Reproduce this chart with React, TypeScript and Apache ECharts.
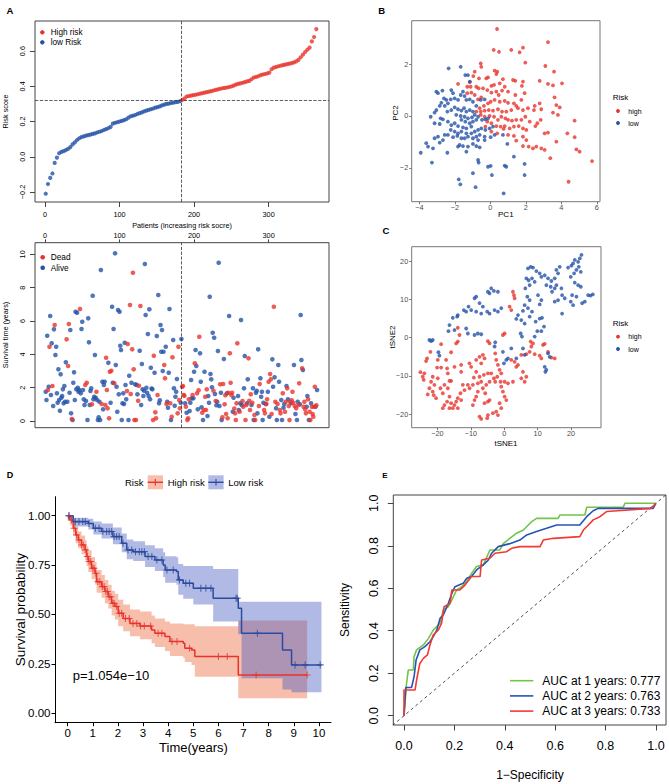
import React, { useEffect, useRef } from 'react';
import * as echarts from 'echarts';

const FONT = '"Liberation Sans", Arial, Helvetica, sans-serif';
const RED = '#E8332C';
const BLUE = '#2452A8';

// ---------- Panel A (risk score curve, every third patient) ----------
const riskScoreStep = 3;
const riskScores = [
  -0.21, -0.155, -0.12, -0.095, -0.035, -0.005, 0.02, 0.028, 0.032, 0.038,
  0.045, 0.055, 0.07, 0.082, 0.095, 0.105, 0.112, 0.116, 0.12, 0.123,
  0.126, 0.13, 0.133, 0.138, 0.142, 0.146, 0.152, 0.157, 0.162, 0.17,
  0.188, 0.193, 0.196, 0.2, 0.204, 0.208, 0.213, 0.222, 0.23, 0.233,
  0.237, 0.243, 0.248, 0.252, 0.258, 0.262, 0.266, 0.27, 0.274, 0.279,
  0.282, 0.286, 0.292, 0.296, 0.3, 0.302, 0.305, 0.307, 0.31, 0.312,
  0.315, 0.322, 0.33, 0.342, 0.345, 0.347, 0.35, 0.352, 0.355, 0.358,
  0.361, 0.364, 0.367, 0.37, 0.373, 0.376, 0.38, 0.383, 0.386, 0.389,
  0.391, 0.393, 0.396, 0.399, 0.404, 0.41, 0.414, 0.417, 0.42, 0.424,
  0.428, 0.431, 0.44, 0.45, 0.453, 0.457, 0.463, 0.467, 0.47, 0.473,
  0.478, 0.497, 0.506, 0.51, 0.514, 0.517, 0.52, 0.523, 0.526, 0.529,
  0.532, 0.536, 0.542, 0.55, 0.565, 0.58, 0.595, 0.608, 0.62, 0.655,
  0.68, 0.725,
];
const cutoffPatient = 182.5;
const cutoffScore = 0.316;
const patientTicks = [0, 100, 200, 300];
const riskTicks = [-0.2, 0, 0.2, 0.4, 0.6];
const survTicks = [0, 2, 4, 6, 8, 10];

// survival time per patient (ordered by risk score)
const survTime = [
  1.76, 1.26, 5.12, 1.86, 2.06, 4.46, 6.3, 1.56, 4.66, 2.1, 0.9,
  5.5, 5.76, 3.96, 4.46, 1.66, 1.1, 3.1, 1.26, 0.62, 2.8, 1.4,
  1.5, 1.9, 1.06, 2.1, 1.16, 3.52, 4.9, 1.16, 3.3, 5.82, 1.7,
  5.46, 0.46, 0.12, 0.06, 2.3, 2.92, 1.26, 6.56, 1.9, 6.5, 2.0,
  1.76, 1.86, 6.72, 1.66, 5.52, 5.96, 1.86, 1.3, 0.96, 2.16, 1.2,
  2.3, 0.06, 6.16, 4.72, 0.96, 1.8, 1.96, 1.0, 7.52, 1.3, 1.45,
  3.96, 1.4, 1.76, 1.26, 0.06, 0.22, 1.16, 0.06, 9.06, 1.02, 2.36,
  0.7, 2.16, 2.36, 0.96, 3.8, 1.86, 0.76, 3.5, 0.16, 2.96, 1.1,
  3.02, 6.86, 2.3, 5.52, 2.26, 10.06, 3.36, 2.06, 0.56, 6.66, 1.6,
  6.56, 4.52, 4.26, 0.06, 1.06, 1.66, 1.02, 4.7, 2.16, 1.3, 1.8,
  4.62, 0.06, 2.72, 6.96, 1.62, 2.3, 4.3, 8.9, 3.1, 0.06, 2.2,
  0.06, 2.16, 1.6, 1.22, 2.12, 4.22, 6.9, 0.96, 3.42, 1.9, 1.5,
  1.82, 9.42, 6.36, 2.0, 1.7, 5.22, 1.5, 6.7, 1.3, 3.2, 1.95,
  1.9, 0.06, 3.92, 2.9, 0.52, 0.16, 5.1, 1.56, 7.56, 1.06, 1.25,
  5.76, 4.16, 5.46, 3.0, 4.16, 3.36, 2.56, 4.46, 1.02, 1.16, 0.8,
  2.9, 6.72, 1.06, 0.06, 0.26, 3.82, 4.86, 1.96, 0.92, 1.46, 1.75,
  2.52, 0.46, 4.46, 1.26, 0.76, 1.1,
  4.92, 2.06, 2.1, 1.56, 1.52, 1.06, 0.86, 0.5, 0.06, 0.16, 1.3, 0.6,
  1.1, 2.46, 1.36, 1.56, 1.36, 2.96, 3.46, 4.26, 3.3, 1.66, 0.7, 1.85,
  5.06, 4.06, 2.36, 0.82, 0.5, 0.06, 0.66, 2.96, 1.46, 0.66, 1.9, 0.3,
  1.5, 1.1, 7.46, 2.82, 2.5, 2.02, 5.3, 1.82, 5.0, 1.62, 1.2, 0.95,
  1.16, 4.2, 9.5, 0.9, 2.2, 1.7, 0.06, 0.22, 2.22, 3.72, 1.0, 1.55,
  0.42, 1.66, 0.16, 1.7, 6.3, 4.06, 2.3, 1.56, 1.7, 0.56, 1.4, 0.75,
  0.46, 0.06, 1.06, 4.66, 1.5, 0.66, 0.56, 1.06, 6.06, 0.96, 1.2,
  0.86, 1.96, 3.9, 0.06, 0.96, 1.06, 2.5, 3.76, 1.22, 0.66, 1.6,
  0.96, 1.1, 1.96, 0.06, 0.36, 0.06, 1.7, 1.82, 0.46, 4.3, 0.9,
  2.22, 2.56, 1.46, 1.76, 0.06, 1.1, 0.66, 0.46, 1.02, 1.02, 1.3,
  1.76, 2.36, 0.26, 2.82, 2.5, 0.42, 3.7, 2.06, 6.86, 2.62, 1.15,
  0.76, 0.06, 1.02, 3.36, 2.36, 0.66, 0.46, 1.26, 0.06, 1.66, 0.8,
  1.02, 0.56, 1.16, 2.1, 1.96, 1.3, 0.9, 0.06, 1.16, 1.06, 1.25,
  1.76, 1.1, 3.36, 0.9, 0.42, 0.76, 0.06, 1.16, 0.96, 2.26, 1.0,
  6.36, 3.66, 3.16, 3.06, 0.86, 1.16, 0.7, 0.46, 0.86, 1.5, 1.3,
  0.06, 0.56, 0.06, 1.06, 0.86, 0.42, 0.26, 0.86, 2.06, 0.86, 0.95,
  1.86,
];
// D = dead, A = alive
const survStatus = [
  'AAADADAAADA', 'ADAAAAAAAAA', 'AAAAAADADDA', 'AADAAAAAAAA', 'AADAAAAAADA',
  'DAAAAAADAAA', 'AADAAAAAADA', 'AAADDDDADDA', 'DAAADAAAAAA', 'AAAAAAAAAAD',
  'DAADDADDDDA', 'DAADDADAAAA', 'AAAAAAAAAAA', 'ADDADDADAAA', 'AAAAADDADAA',
  'AADADDAAAAA', 'ADDDDA',
  'ADDDDADADDDA', 'AAADAADAADAD', 'DAAADADADDDA', 'AAAAAAADAADA', 'AAAADAADDADD',
  'DADDADDDDAAD', 'DDDDAADAAAD', 'DAADDAADDDD', 'ADAADDAAAAD', 'DAAAAADDADD',
  'ADADDDAADAD', 'AADAADDAADA', 'ADDADADDDAD', 'DDADADAADDA', 'AADADDDDAAD',
  'ADDADDDDDAD', 'A',
].join('');

// ---------- Panel B (PCA) ----------
const pcaHigh = [
  [0.38, 3.36], [0.19, 2.55], [0.49, 2.48], [1.18, 2.55], [1.65, 2.46], [1.84, 2.64], [3.25, 2.85], [1.97, 2.06],
  [3.1, 1.93], [3.59, 1.71], [-0.54, 2.03], [-0.51, 1.9], [0.24, 1.75], [0.39, 1.71], [0.34, 1.62], [-0.13, 1.49],
  [-0.88, 1.71], [-0.96, 1.54], [-1.16, 1.31], [-0.64, 1.45], [-0.23, 1.45], [-1.82, 1.24], [-1.3, 1.13], [-1.11, 1.13],
  [-0.79, 1.13], [-0.66, 1.07], [-0.41, 1.07], [-0.17, 1.0], [0.06, 1.16], [0.21, 1.2], [0.53, 1.26], [0.71, 1.42],
  [0.81, 1.13], [1.28, 1.39], [1.41, 1.36], [1.84, 1.33], [1.78, 1.16], [2.78, 1.36], [3.25, 1.24], [3.53, 1.18],
  [4.04, 1.26], [-1.3, 0.88], [-1.07, 0.9], [-0.88, 0.81], [-0.69, 0.64], [-0.51, 0.72], [0.06, 0.9], [0.34, 0.94],
  [0.47, 0.81], [0.66, 0.98], [1.0, 0.94], [1.41, 0.81], [1.93, 0.88], [1.75, 0.62], [1.33, 0.49], [1.46, 0.39],
  [1.0, 0.51], [0.81, 0.58], [0.53, 0.55], [0.24, 0.62], [0.02, 0.55], [-0.13, 0.49], [-0.36, 0.39], [-0.6, 0.3],
  [-0.79, 0.17], [-0.54, 0.17], [-0.32, 0.21], [-0.09, 0.23], [0.15, 0.21], [0.43, 0.26], [0.66, 0.17], [0.9, 0.17],
  [1.18, 0.23], [1.56, 0.3], [1.84, 0.23], [2.12, 0.3], [2.5, 0.39], [2.78, 0.49], [2.46, 0.23], [2.87, 0.26],
  [3.62, 0.72], [3.72, 0.42], [3.91, 0.33], [3.53, 0.13], [3.81, 0.04], [-0.54, 0.04], [-0.32, -0.03], [-0.04, 0.0],
  [0.21, -0.03], [0.43, -0.15], [0.62, -0.03], [0.85, -0.09], [1.0, -0.15], [1.22, -0.18], [1.46, -0.15], [1.75, -0.15],
  [1.97, -0.03], [2.22, -0.22], [2.54, -0.39], [2.65, -0.28], [2.84, -0.15], [3.06, -0.67], [3.25, -0.64], [-0.17, -0.22],
  [0.06, -0.28], [0.34, -0.39], [0.58, -0.41], [0.81, -0.39], [1.09, -0.48], [1.33, -0.41], [1.6, -0.39], [1.84, -0.48],
  [2.03, -0.54], [1.0, -0.73], [1.33, -0.77], [1.84, -0.8], [1.46, -0.95], [2.03, -0.93], [2.16, -1.18], [1.84, -1.16],
  [2.4, -1.25], [2.59, -1.18], [2.87, -1.25], [3.06, -1.31], [4.75, -0.18], [4.34, -0.67], [4.75, -0.82], [3.72, -0.99],
  [4.85, -1.29], [5.03, -1.38], [5.73, -1.74], [3.38, -1.63], [4.41, -2.54], [0.75, -0.5], [0.39, -0.67], [0.06, -0.6],
  [-0.28, -0.41],
];
const pcaLow = [
  [-2.35, 1.84], [-1.67, 1.9], [-1.41, 1.58], [-1.26, 1.58], [-1.15, 1.33], [-3.04, 0.94], [-2.95, 0.88], [-2.7, 0.98],
  [-2.2, 1.0], [-2.1, 0.88], [-2.61, 0.68], [-2.48, 0.62], [-2.76, 0.51], [-2.85, 0.39], [-2.57, 0.39], [-2.39, 0.49],
  [-2.23, 0.64], [-2.01, 0.68], [-1.82, 0.62], [-1.67, 0.81], [-1.54, 0.94], [-1.45, 0.77], [-1.35, 0.62], [-1.16, 0.64],
  [-0.98, 0.55], [-0.79, 0.39], [-0.54, 0.62], [-0.32, 0.64], [-3.36, -0.03], [-3.14, 0.13], [-3.04, 0.23], [-2.8, -0.09],
  [-2.67, -0.13], [-2.42, 0.17], [-2.2, 0.23], [-2.01, 0.33], [-1.82, 0.26], [-1.63, 0.21], [-1.48, 0.3], [-1.35, 0.17],
  [-1.16, 0.23], [-0.98, 0.17], [-1.92, 0.04], [-1.67, 0.0], [-1.45, -0.03], [-1.26, -0.09], [-1.03, -0.05], [-0.88, 0.04],
  [-0.69, -0.03], [-1.63, -0.15], [-1.41, -0.22], [-1.16, -0.28], [-0.98, -0.22], [-0.79, -0.15], [-0.47, -0.15], [-0.28, -0.13],
  [-0.13, -0.09], [-3.14, -0.28], [-2.85, -0.31], [-2.39, -0.22], [-2.2, -0.35], [-2.01, -0.28], [-1.82, -0.39], [-1.54, -0.44],
  [-1.35, -0.48], [-2.23, -0.54], [-2.01, -0.6], [-1.82, -0.67], [-1.63, -0.6], [-1.35, -0.67], [-1.07, -0.67], [-0.88, -0.6],
  [-0.69, -0.54], [-0.51, -0.48], [-0.28, -0.54], [-0.04, -0.48], [0.15, -0.41], [-1.07, -0.41], [-3.14, -0.86], [-2.95, -0.8],
  [-2.85, -1.03], [-2.67, -0.93], [-2.57, -0.73], [-2.39, -0.73], [-2.1, -0.82], [-1.86, -0.77], [-1.63, -0.86], [-1.45, -0.86],
  [-1.26, -0.8], [-0.98, -0.86], [-0.79, -0.8], [-0.6, -0.73], [-0.32, -0.8], [0.02, -0.82], [0.24, -0.73], [-0.69, -0.93],
  [-0.32, -0.93], [-1.73, -1.12], [-1.54, -1.16], [-1.26, -1.18], [-0.98, -1.08], [-0.79, -1.16], [-0.6, -1.21], [0.71, -0.73],
  [0.96, -1.08], [-3.51, -1.18], [-3.23, -1.25], [-3.92, -1.42], [-2.42, -1.42], [-1.35, -1.38], [-0.69, -1.7], [-0.66, -1.8],
  [-0.13, -1.96], [0.02, -1.93], [0.81, -1.92], [0.9, -1.96], [1.33, -1.57], [1.93, -1.85], [1.93, -2.28], [-3.29, -1.8],
  [-0.98, -2.21], [0.09, -2.28], [-1.78, -2.45], [-1.69, -2.64], [-0.83, -2.75], [0.75, -2.99], [-3.61, -1.05], [-1.82, -1.18],
];

// ---------- Panel C (tSNE) ----------
const tsneHigh = [
  [2.6, 12.0], [2.9, 11.1], [3.1, 10.3], [1.6, 8.1], [2.1, 7.2], [-13.9, 2.6], [-13.4, 0.7], [-13.9, -1.0],
  [-14.4, -1.5], [-18.9, -1.7], [-15.9, -3.8], [-22.1, -3.7], [-23.1, -5.4], [-23.4, -6.1], [-19.9, -5.8], [-20.1, -7.8],
  [-18.9, -7.8], [-17.4, -5.8], [-17.1, -8.0], [-16.9, -9.3], [-16.4, -11.3], [-15.9, -11.3], [-17.9, -12.3], [-16.9, -13.2],
  [-18.4, -14.5], [-19.1, -13.2], [-19.9, -10.6], [-21.4, -10.2], [-21.9, -11.5], [-22.4, -13.2], [-23.9, -9.3], [-24.4, -10.2],
  [-25.1, -9.0], [-24.1, -11.0], [-20.9, -12.3], [-21.1, -15.0], [-20.4, -15.8], [-22.9, -14.8], [-21.4, -14.1], [-14.9, -7.6],
  [-12.9, -7.1], [-12.9, -8.9], [-10.4, -6.7], [-9.9, -7.6], [-8.4, -5.8], [-7.4, -5.0], [-6.4, -4.5], [-5.9, -5.4],
  [-6.9, -6.7], [-4.9, -0.9], [-4.4, -1.5], [0.1, 1.1], [-0.4, 0.7], [-2.7, -4.1], [-2.4, -5.8], [-1.9, -7.1],
  [-1.4, -8.4], [-0.9, -9.3], [-2.1, -10.2], [-3.1, -10.6], [-3.9, -9.3], [-4.9, -9.3], [-6.1, -9.7], [-7.4, -10.2],
  [-8.4, -8.9], [-9.1, -10.4], [-9.4, -12.3], [-7.9, -11.9], [-6.9, -11.5], [-5.4, -12.3], [-4.4, -11.5], [-2.7, -11.5],
  [-1.1, -11.5], [0.1, -11.5], [1.1, -11.9], [2.6, -11.5], [-0.9, -12.8], [-0.4, -14.1], [0.1, -15.4], [0.6, -16.3],
  [-1.4, -17.1], [-0.9, -18.4], [-2.4, -19.3], [-1.9, -20.2], [-3.4, -19.7], [-4.9, -20.2], [-5.1, -21.0], [-7.4, -20.6],
  [-6.9, -21.2], [-5.9, -17.1], [-4.9, -16.7], [-4.4, -16.3], [-5.7, -14.5], [-6.4, -13.2], [-7.9, -14.1], [-8.4, -15.4],
  [-8.9, -16.3], [-9.4, -17.6], [-10.4, -13.2], [-10.9, -12.3], [-12.4, -12.3], [-11.9, -13.7], [-13.1, -14.5], [-13.9, -15.8],
  [-14.4, -16.7], [-14.9, -17.6], [-15.9, -17.1], [-17.1, -16.7], [-17.9, -17.6], [-18.4, -18.4], [-16.4, -18.4], [-15.4, -18.4],
  [-13.9, -18.4], [-12.9, -16.3], [-16.4, -15.4], [5.1, -4.5], [6.6, -4.3], [7.6, -3.7], [9.1, -4.3], [10.6, -4.7],
  [11.6, -1.9], [12.1, -1.6], [13.1, -3.7], [14.1, -5.2], [15.1, -5.4], [11.1, -5.4], [8.1, -2.3], [8.6, -1.5],
  [7.9, -1.0], [4.1, -7.1], [3.6, -7.6], [5.1, -10.6], [6.1, -11.5], [5.6, -8.9], [6.6, -10.2], [2.1, -5.8],
  [3.1, -6.3],
];
const tsneLow = [
  [23.1, 21.6], [22.6, 20.7], [22.1, 19.8], [21.1, 20.3], [20.6, 19.4], [20.1, 18.8], [19.1, 18.3], [22.3, 18.5],
  [21.6, 17.7], [22.9, 17.2], [20.9, 16.8], [19.9, 15.9], [21.1, 14.4], [22.1, 13.7], [22.9, 13.3], [16.6, 18.5],
  [15.6, 17.7], [16.1, 16.8], [15.1, 15.5], [14.1, 14.8], [13.1, 15.5], [12.1, 16.3], [11.1, 15.9], [10.6, 16.8],
  [9.6, 17.4], [7.1, 18.1], [7.9, 18.5], [8.6, 18.3], [6.6, 15.5], [7.3, 15.0], [8.3, 15.5], [9.1, 14.6],
  [7.6, 13.7], [6.3, 12.9], [12.6, 13.7], [13.9, 13.3], [15.1, 12.9], [14.3, 12.0], [15.6, 13.7], [17.1, 12.9],
  [17.3, 11.1], [16.1, 9.8], [15.1, 9.4], [18.1, 10.3], [19.9, 9.4], [20.6, 8.5], [20.3, 11.1], [21.6, 10.7],
  [24.1, 9.4], [23.3, 9.0], [25.1, 11.1], [25.8, 11.0], [26.5, 11.3], [17.3, 6.3], [11.1, 9.8], [10.6, 8.7],
  [10.1, 11.1], [6.9, 10.7], [7.6, 9.8], [6.1, 8.5], [7.1, 7.7], [5.6, 7.0], [4.1, 5.9], [3.6, 4.9],
  [5.1, 4.6], [6.1, 3.7], [7.6, 5.5], [8.3, 6.8], [9.4, 4.2], [10.6, 5.0], [11.3, 5.2], [11.9, 2.9],
  [11.1, 1.7], [9.9, 1.7], [9.1, 0.3], [4.9, 1.1], [5.3, 0.3], [2.1, -2.8], [6.1, -4.5], [5.6, -2.8],
  [13.1, -4.1], [13.6, -5.0], [12.1, -7.6], [12.6, -8.4], [12.3, -8.9], [-2.9, 7.2], [-1.9, 6.8], [-0.9, 7.7],
  [-4.4, 6.3], [-5.1, 6.8], [-6.9, 6.3], [-8.4, 6.8], [-9.9, 7.2], [-11.4, 6.8], [-10.7, 8.1], [-8.9, 10.3],
  [-8.4, 10.7], [-7.4, 9.0], [-6.4, 8.1], [-4.9, 12.0], [-3.9, 12.9], [-3.1, 12.2], [-1.9, 12.0], [-4.4, 11.6],
  [-12.1, 7.2], [-13.9, 5.9], [-15.4, 5.2], [-14.1, 5.5], [-16.4, 3.3], [-16.7, 1.7], [-14.9, 2.0], [-11.4, 2.4],
  [-10.9, 1.1], [-8.9, 0.7], [-7.9, 1.1], [-6.9, 0.9], [-2.7, -1.2], [-2.9, -2.3], [-0.4, -3.7], [0.6, -5.8],
  [-0.1, -6.7], [1.1, -5.4], [-22.4, -0.6], [-21.9, -0.9], [-21.4, -0.6], [-19.7, -3.8], [-19.4, -4.7], [3.6, -5.4],
];

// ---------- Panel D (Kaplan-Meier) ----------
const highT = [0, 0.09, 0.22, 0.32, 0.42, 0.55, 0.69, 0.755, 0.82, 0.95, 1.09, 1.15, 1.35, 1.48, 1.62, 1.75, 1.88, 2.01, 2.21, 2.48, 2.88, 3.34, 3.47, 3.87, 4.07, 4.6, 4.66, 4.93, 5.06, 6.79, 9.53];
const highS = [1.0, 0.978, 0.936, 0.902, 0.877, 0.852, 0.827, 0.793, 0.768, 0.734, 0.709, 0.666, 0.641, 0.616, 0.59, 0.557, 0.54, 0.506, 0.48, 0.455, 0.442, 0.422, 0.405, 0.388, 0.363, 0.354, 0.329, 0.32, 0.287, 0.194, 0.194];
const lowT = [0, 0.22, 0.82, 1.02, 1.35, 1.8, 2.15, 2.35, 2.61, 3.08, 3.47, 3.8, 3.88, 4.33, 4.4, 4.6, 5.0, 5.79, 6.79, 6.92, 8.55, 8.91, 10.1];
const lowS = [1.0, 0.97, 0.96, 0.936, 0.92, 0.894, 0.86, 0.826, 0.818, 0.793, 0.776, 0.75, 0.725, 0.717, 0.675, 0.658, 0.633, 0.582, 0.531, 0.405, 0.32, 0.245, 0.245];
// [time, lower, upper]
const highBand = [
  [0, 0.975, 1.0], [0.09, 0.95, 1.0], [0.22, 0.9, 0.97], [0.32, 0.86, 0.945], [0.42, 0.835, 0.92], [0.55, 0.805, 0.9],
  [0.69, 0.775, 0.875], [0.755, 0.745, 0.845], [0.82, 0.715, 0.825], [0.95, 0.68, 0.79], [1.09, 0.65, 0.765],
  [1.15, 0.61, 0.725], [1.35, 0.585, 0.7], [1.48, 0.555, 0.675], [1.62, 0.53, 0.65], [1.75, 0.495, 0.62],
  [1.88, 0.475, 0.605], [2.01, 0.44, 0.575], [2.21, 0.415, 0.55], [2.48, 0.39, 0.525], [2.88, 0.375, 0.515],
  [3.34, 0.355, 0.495], [3.47, 0.335, 0.48], [3.87, 0.315, 0.465], [4.07, 0.29, 0.455], [4.6, 0.28, 0.45],
  [4.66, 0.26, 0.45], [4.93, 0.245, 0.45], [5.06, 0.185, 0.44], [6.79, 0.076, 0.469], [9.53, 0.076, 0.469],
];
const lowBand = [
  [0, 0.985, 1.0], [0.22, 0.945, 0.99], [0.82, 0.93, 0.985], [1.02, 0.905, 0.97], [1.35, 0.885, 0.96], [1.8, 0.855, 0.94],
  [2.15, 0.815, 0.91], [2.35, 0.78, 0.88], [2.61, 0.77, 0.87], [3.08, 0.74, 0.85], [3.47, 0.72, 0.835], [3.8, 0.69, 0.815],
  [3.88, 0.66, 0.795], [4.33, 0.65, 0.79], [4.4, 0.6, 0.755], [4.6, 0.58, 0.745], [5.0, 0.55, 0.745], [5.79, 0.464, 0.73],
  [6.79, 0.4, 0.565], [6.92, 0.177, 0.565], [8.55, 0.12, 0.565], [8.91, 0.106, 0.565], [10.1, 0.106, 0.565],
];
const highCensor = [0.05, 0.15, 0.25, 0.35, 0.45, 0.55, 0.62, 0.7, 0.78, 0.85, 0.92, 1.0, 1.05, 1.12, 1.2, 1.28, 1.38, 1.45, 1.52, 1.58, 1.65, 1.72, 1.8, 1.85, 1.95, 2.05, 2.15, 2.3, 2.45, 2.6, 2.75, 2.9, 3.05, 3.3, 3.6, 3.75, 4.15, 4.35, 4.85, 6.0, 6.35, 7.5, 9.53];
const lowCensor = [0.05, 0.3, 0.45, 0.6, 0.7, 0.85, 1.1, 1.25, 1.4, 1.55, 1.65, 1.75, 1.85, 1.95, 2.05, 2.2, 2.4, 2.55, 2.7, 2.85, 2.95, 3.05, 3.2, 3.35, 3.55, 3.75, 3.95, 4.2, 4.45, 4.7, 4.85, 5.3, 5.5, 5.7, 6.7, 6.75, 7.55, 9.05, 9.45, 10.05];
const pValueText = 'p=1.054e\u221210';
const timeTicks = [0, 1, 2, 3, 4, 5, 6, 7, 8, 9, 10];
const probTicks = [0, 0.25, 0.5, 0.75, 1];

// ---------- Panel E (ROC) ----------
const roc1 = [[0, 0], [0.01, 0.152], [0.017, 0.215], [0.037, 0.215], [0.04, 0.278], [0.05, 0.31], [0.077, 0.333], [0.097, 0.364], [0.116, 0.403], [0.143, 0.435], [0.156, 0.498], [0.176, 0.513], [0.19, 0.545], [0.209, 0.592], [0.229, 0.607], [0.249, 0.631], [0.268, 0.67], [0.288, 0.702], [0.315, 0.71], [0.341, 0.78], [0.38, 0.78], [0.394, 0.81], [0.42, 0.835], [0.447, 0.859], [0.474, 0.874], [0.507, 0.914], [0.526, 0.929], [0.612, 0.929], [0.619, 0.945], [0.718, 0.945], [0.725, 0.981], [0.87, 0.981], [0.877, 1.0], [1.0, 1.0]];
const roc2 = [[0, 0], [0.007, 0.133], [0.03, 0.133], [0.04, 0.184], [0.048, 0.262], [0.063, 0.31], [0.083, 0.325], [0.103, 0.348], [0.116, 0.372], [0.13, 0.403], [0.143, 0.458], [0.156, 0.474], [0.176, 0.529], [0.19, 0.576], [0.202, 0.607], [0.235, 0.623], [0.249, 0.647], [0.268, 0.655], [0.288, 0.686], [0.315, 0.71], [0.335, 0.733], [0.348, 0.765], [0.374, 0.796], [0.42, 0.81], [0.46, 0.827], [0.487, 0.851], [0.526, 0.867], [0.566, 0.882], [0.606, 0.898], [0.698, 0.898], [0.725, 0.937], [0.751, 0.965], [0.771, 0.976], [0.989, 0.976], [1.0, 1.0]];
const roc3 = [[0, 0], [0, 0.121], [0.044, 0.121], [0.05, 0.168], [0.063, 0.246], [0.077, 0.27], [0.093, 0.286], [0.103, 0.333], [0.116, 0.38], [0.136, 0.403], [0.149, 0.435], [0.159, 0.513], [0.183, 0.529], [0.19, 0.592], [0.222, 0.592], [0.242, 0.615], [0.268, 0.655], [0.302, 0.655], [0.308, 0.733], [0.341, 0.741], [0.361, 0.765], [0.407, 0.772], [0.427, 0.788], [0.46, 0.796], [0.54, 0.796], [0.553, 0.827], [0.593, 0.835], [0.698, 0.843], [0.712, 0.874], [0.732, 0.898], [0.751, 0.922], [0.778, 0.937], [0.804, 0.961], [0.98, 0.976], [1.0, 1.0]];
const aucYears = [1, 2, 3];
const aucValues = ['0.777', '0.763', '0.733'];
const rocColors = ['#72C44A', '#2853B4', '#F23A33'];
const rocTicks = [0, 0.2, 0.4, 0.6, 0.8, 1.0];

const minusFmt = (d: number) => (v: number) => v.toFixed(d).replace('-', '\u2212');

function axis(o: any) {
  return {
    type: 'value',
    gridIndex: o.grid,
    min: o.min,
    max: o.max,
    position: o.position,
    splitLine: { show: false },
    axisLine: { show: !!o.line, onZero: false, lineStyle: { color: '#000', width: 1 } },
    axisTick: { show: true, customValues: o.ticks, length: o.tickLen, lineStyle: { color: o.tickColor, width: 1 } },
    axisLabel: {
      show: true, customValues: o.ticks, formatter: o.fmt, color: o.labelColor, fontSize: o.fontSize,
      fontFamily: FONT, margin: o.margin, rotate: o.rotate || 0,
    },
  };
}

const txt = (text: string, x: number, y: number, size: number, opts: any = {}) => ({
  type: 'text', x, y, rotation: opts.rot || 0, z: 100,
  style: {
    text, fill: opts.color || '#000', fontSize: size, fontFamily: FONT, fontWeight: opts.bold ? 'bold' : 'normal',
    align: opts.align || 'center', verticalAlign: 'middle', textAlign: opts.align || 'center', textVerticalAlign: 'middle',
  },
});
const dot = (cx: number, cy: number, r: number, fill: string) => ({ type: 'circle', z: 100, shape: { cx, cy, r }, style: { fill } });
const seg = (x1: number, y1: number, x2: number, y2: number, stroke: string, w: number) => ({ type: 'line', z: 100, shape: { x1, y1, x2, y2 }, style: { stroke, lineWidth: w } });

const survAt = (T: number[], S: number[], t: number) => {
  let v = S[0];
  for (let i = 0; i < T.length; i++) if (T[i] <= t) v = S[i];
  return v;
};

const PLUS = 'path://M3.4,0H4.6V3.4H8V4.6H4.6V8H3.4V4.6H0V3.4H3.4Z';
const highBandColor = 'rgba(240,110,70,0.45)';
const lowBandColor = 'rgba(70,90,190,0.42)';
const KM_RED = '#E8332C';
const KM_BLUE = '#2C4A9E';

const bandSeries = (band: number[][], color: string) => ({
  type: 'custom', xAxisIndex: 4, yAxisIndex: 4, silent: true, z: 1,
  data: [[band[0][0], band[0][1]]],
  renderItem: (_params: any, api: any) => {
    const upper: number[][] = [];
    const lower: number[][] = [];
    for (let i = 0; i < band.length; i++) {
      const [t, lo, hi] = band[i];
      const tNext = i < band.length - 1 ? band[i + 1][0] : t;
      upper.push(api.coord([t, hi]), api.coord([tNext, hi]));
      lower.push(api.coord([t, lo]), api.coord([tNext, lo]));
    }
    return { type: 'polygon', shape: { points: upper.concat(lower.reverse()) }, style: { fill: color } };
  },
});

export default function App() {
  const ref = useRef<HTMLDivElement>(null);
  useEffect(() => {
    if (!ref.current) return;
    const chart = echarts.init(ref.current, null, { renderer: 'svg' });

    const riskPts = riskScores.map((s, i) => [1 + i * riskScoreStep, s]);
    const lowRiskPts = riskPts.filter((p) => p[0] < cutoffPatient);
    const highRiskPts = riskPts.filter((p) => p[0] > cutoffPatient);
    const alivePts: number[][] = [];
    const deadPts: number[][] = [];
    survTime.forEach((t, i) => (survStatus[i] === 'D' ? deadPts : alivePts).push([i + 1, t]));

    const dashLine = { type: 'dashed', color: '#333', width: 0.8 };
    const A_GRID = { show: true, borderColor: '#444', borderWidth: 1, backgroundColor: 'transparent' };
    const G_GRID = { show: true, borderColor: '#777', borderWidth: 1, backgroundColor: 'transparent' };

    const option: any = {
      animation: false,
      backgroundColor: '#ffffff',
      textStyle: { fontFamily: FONT },
      grid: [
        { left: 35, top: 21, width: 294, height: 181, ...A_GRID },
        { left: 35, top: 242.7, width: 294, height: 185, ...A_GRID },
        { left: 411.7, top: 20.7, width: 188.3, height: 181, ...G_GRID },
        { left: 411.7, top: 246.7, width: 189.3, height: 181, ...G_GRID },
        { left: 55, top: 496.7, width: 276, height: 226, show: false },
        { left: 393.3, top: 495, width: 272.7, height: 230, ...A_GRID },
      ],
      xAxis: [
        axis({ grid: 0, min: -13.4, max: 381, ticks: patientTicks, fmt: minusFmt(0), tickLen: 5, tickColor: '#444', labelColor: '#000', fontSize: 7.3, margin: 9 }),
        axis({ grid: 1, min: -13.4, max: 381, position: 'top', ticks: patientTicks, fmt: minusFmt(0), tickLen: 3.3, tickColor: '#444', labelColor: '#000', fontSize: 7.3, margin: 4 }),
        axis({ grid: 2, min: -4.43, max: 6.18, ticks: [-4, -2, 0, 2, 4, 6], fmt: minusFmt(0), tickLen: 2.5, tickColor: '#777', labelColor: '#4D4D4D', fontSize: 7.3, margin: 2 }),
        axis({ grid: 3, min: -27.7, max: 28.95, ticks: [-20, -10, 0, 10, 20], fmt: minusFmt(0), tickLen: 2.5, tickColor: '#777', labelColor: '#4D4D4D', fontSize: 7.3, margin: 2 }),
        axis({ grid: 4, min: -0.505, max: 10.48, ticks: timeTicks, fmt: minusFmt(0), tickLen: 3.5, tickColor: '#000', labelColor: '#000', fontSize: 11.5, margin: 4.5, line: true }),
        axis({ grid: 5, min: -0.0425, max: 1.04, ticks: rocTicks, fmt: minusFmt(1), tickLen: 5.5, tickColor: '#444', labelColor: '#000', fontSize: 12.5, margin: 14 }),
      ],
      yAxis: [
        axis({ grid: 0, min: -0.257, max: 0.771, ticks: riskTicks, fmt: minusFmt(1), tickLen: 5, tickColor: '#444', labelColor: '#000', fontSize: 7.3, margin: 9, rotate: 90 }),
        axis({ grid: 1, min: -0.4, max: 10.7, ticks: survTicks, fmt: minusFmt(0), tickLen: 5, tickColor: '#444', labelColor: '#000', fontSize: 7.3, margin: 9, rotate: 90 }),
        axis({ grid: 2, min: -3.31, max: 3.68, ticks: [-2, 0, 2], fmt: minusFmt(0), tickLen: 2.5, tickColor: '#777', labelColor: '#4D4D4D', fontSize: 7.3, margin: 3.5 }),
        axis({ grid: 3, min: -23.5, max: 23.76, ticks: [-20, -10, 0, 10, 20], fmt: minusFmt(0), tickLen: 2.5, tickColor: '#777', labelColor: '#4D4D4D', fontSize: 7.3, margin: 3.5 }),
        axis({ grid: 4, min: -0.0476, max: 1.096, ticks: probTicks, fmt: minusFmt(2), tickLen: 3.5, tickColor: '#000', labelColor: '#000', fontSize: 11.5, margin: 4.5, line: true }),
        axis({ grid: 5, min: -0.0438, max: 1.039, ticks: rocTicks, fmt: minusFmt(1), tickLen: 5.5, tickColor: '#444', labelColor: '#000', fontSize: 12.5, margin: 13, rotate: 90 }),
      ],
      series: [
        {
          type: 'scatter', xAxisIndex: 0, yAxisIndex: 0, data: lowRiskPts, symbolSize: 4.2, itemStyle: { color: BLUE },
          markLine: {
            silent: true, symbol: ['none', 'none'], label: { show: false }, lineStyle: dashLine,
            data: [{ xAxis: cutoffPatient }, { yAxis: cutoffScore }],
          },
        },
        { type: 'scatter', xAxisIndex: 0, yAxisIndex: 0, data: highRiskPts, symbolSize: 4.2, itemStyle: { color: RED } },
        {
          type: 'scatter', xAxisIndex: 1, yAxisIndex: 1, data: alivePts, symbolSize: 4.6, itemStyle: { color: BLUE },
          markLine: {
            silent: true, symbol: ['none', 'none'], label: { show: false }, lineStyle: dashLine,
            data: [{ xAxis: cutoffPatient }],
          },
        },
        { type: 'scatter', xAxisIndex: 1, yAxisIndex: 1, data: deadPts, symbolSize: 4.6, itemStyle: { color: RED } },
        { type: 'scatter', xAxisIndex: 2, yAxisIndex: 2, data: pcaHigh, symbolSize: 3.8, itemStyle: { color: RED } },
        { type: 'scatter', xAxisIndex: 2, yAxisIndex: 2, data: pcaLow, symbolSize: 3.8, itemStyle: { color: BLUE } },
        { type: 'scatter', xAxisIndex: 3, yAxisIndex: 3, data: tsneHigh, symbolSize: 3.8, itemStyle: { color: RED } },
        { type: 'scatter', xAxisIndex: 3, yAxisIndex: 3, data: tsneLow, symbolSize: 3.8, itemStyle: { color: BLUE } },
        bandSeries(highBand, highBandColor),
        bandSeries(lowBand, lowBandColor),
        {
          type: 'line', xAxisIndex: 4, yAxisIndex: 4, step: 'end', symbol: 'none', z: 3,
          lineStyle: { color: KM_RED, width: 1.5 }, data: highT.map((t, i) => [t, highS[i]]),
        },
        {
          type: 'line', xAxisIndex: 4, yAxisIndex: 4, step: 'end', symbol: 'none', z: 3,
          lineStyle: { color: KM_BLUE, width: 1.5 }, data: lowT.map((t, i) => [t, lowS[i]]),
        },
        {
          type: 'scatter', xAxisIndex: 4, yAxisIndex: 4, symbol: PLUS, symbolSize: 7, z: 4,
          itemStyle: { color: KM_RED }, data: highCensor.map((t) => [t, survAt(highT, highS, t)]),
        },
        {
          type: 'scatter', xAxisIndex: 4, yAxisIndex: 4, symbol: PLUS, symbolSize: 7, z: 4,
          itemStyle: { color: KM_BLUE }, data: lowCensor.map((t) => [t, survAt(lowT, lowS, t)]),
        },
        {
          type: 'line', xAxisIndex: 5, yAxisIndex: 5, symbol: 'none', clip: true,
          lineStyle: { color: '#222', width: 0.8, type: [3, 3] }, data: [[-0.1, -0.1], [1.1, 1.1]],
        },
        ...[roc1, roc2, roc3].map((d, k) => ({
          type: 'line', xAxisIndex: 5, yAxisIndex: 5, symbol: 'none',
          lineStyle: { color: rocColors[k], width: 1.6 }, data: d,
        })),
      ],
      graphic: [
        // panel letters
        txt('A', 10, 10, 9.5, { bold: true }),
        txt('B', 381.7, 10, 9.5, { bold: true }),
        txt('C', 386, 230, 9.5, { bold: true }),
        txt('D', 10, 475, 9, { bold: true }),
        txt('E', 385, 475, 8, { bold: true }),
        // panel A
        txt('Risk score', 5.5, 111.5, 7.3, { rot: Math.PI / 2 }),
        txt('Patients (increasing risk socre)', 182, 225, 7.3),
        txt('Survival time (years)', 5.5, 335, 7.3, { rot: Math.PI / 2 }),
        dot(42.3, 32.3, 2.2, RED), txt('High risk', 50.7, 32.3, 8.2, { align: 'left' }),
        dot(42.3, 42.3, 2.2, BLUE), txt('low Risk', 50.7, 42.3, 8.2, { align: 'left' }),
        dot(42.7, 257.3, 2.3, RED), txt('Dead', 50.7, 257.3, 8.3, { align: 'left' }),
        dot(42.7, 267.7, 2.3, BLUE), txt('Alive', 50.7, 267.7, 8.3, { align: 'left' }),
        // panel B
        txt('PC1', 505.8, 214, 8),
        txt('PC2', 395.8, 113, 8, { rot: Math.PI / 2 }),
        txt('Risk', 612.7, 97, 8, { align: 'left' }),
        dot(618, 111, 1.9, RED), txt('high', 628.3, 111, 7, { align: 'left' }),
        dot(618, 123, 1.9, BLUE), txt('low', 628.3, 123, 7, { align: 'left' }),
        // panel C
        txt('tSNE1', 506, 443, 8),
        txt('tSNE2', 392.5, 337, 8, { rot: Math.PI / 2 }),
        txt('Risk', 612.7, 323.3, 8, { align: 'left' }),
        dot(618, 336.7, 1.9, RED), txt('high', 628.3, 336.7, 7, { align: 'left' }),
        dot(618, 349, 1.9, BLUE), txt('low', 628.3, 349, 7, { align: 'left' }),
        // panel D
        txt('Time(years)', 193.5, 747.5, 13),
        txt('Survival probability', 20, 609.7, 13.5, { rot: Math.PI / 2 }),
        txt(pValueText, 72.7, 675, 13, { align: 'left' }),
        txt('Risk', 125, 482.3, 9.5, { align: 'left' }),
        { type: 'rect', z: 99, shape: { x: 147.7, y: 475.3, width: 15.3, height: 14 }, style: { fill: highBandColor } },
        seg(147.7, 482.3, 163, 482.3, KM_RED, 1.4), seg(155.3, 479, 155.3, 485.6, KM_RED, 1.1),
        txt('High risk', 167.7, 482.3, 9.5, { align: 'left' }),
        { type: 'rect', z: 99, shape: { x: 208.3, y: 475.3, width: 15.3, height: 14 }, style: { fill: lowBandColor } },
        seg(208.3, 482.3, 223.6, 482.3, KM_BLUE, 1.4), seg(216, 479, 216, 485.6, KM_BLUE, 1.1),
        txt('Low risk', 228.3, 482.3, 9.5, { align: 'left' }),
        // panel E
        txt('1\u2212Specificity', 530, 775, 12),
        txt('Sensitivity', 344.5, 610, 12, { rot: Math.PI / 2 }),
        ...aucYears.flatMap((yr, k) => [
          seg(510, 680.7 + k * 15.2, 533.3, 680.7 + k * 15.2, rocColors[k], 1.6),
          txt(`AUC at ${yr} years: ${aucValues[k]}`, 542.3, 680.7 + k * 15.2, 12, { align: 'left' }),
        ]),
      ],
    };
    chart.setOption(option);
    return () => chart.dispose();
  }, []);
  return <div ref={ref} style={{ position: 'fixed', left: 0, top: 0, width: 669, height: 784 }} />;
}
